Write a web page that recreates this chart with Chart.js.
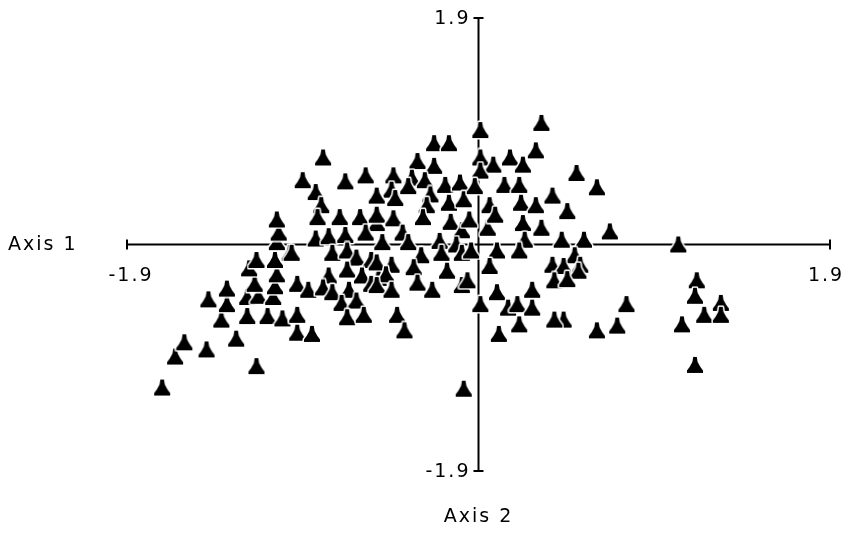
<!DOCTYPE html>
<html lang="en">
<head>
  <meta charset="UTF-8" />
  <title>Ordination plot</title>
  <script src="https://cdn.jsdelivr.net/npm/chart.js"></script>
  <style>
    body { margin: 0; background: #fff; }
    #wrap { width: 852px; height: 537px; }
  </style>
</head>
<body>
  <div id="wrap"><canvas id="chart" width="852" height="537"></canvas></div>
  <script>
    // axis titles and end-of-axis tick labels
    const axisTitles = ['Axis 1', 'Axis 2'];
    const xTicks = [-1.9, 1.9];
    const yTicks = [1.9, -1.9];

    // site scores
    const axis1 = [
      -1.71, -1.64, -1.59, -1.47, -1.31, -1.20, -1.39, -1.25, -1.14, -1.06,
      -1.46, -1.36, -1.25, -1.19, -1.11, -1.36, -1.21, -1.10, -1.09, -1.24,
      -1.20, -1.10, -1.02, -1.09, -1.08, -1.09, -0.84, -0.95, -0.88,
      -0.72, -0.61, -0.85, -0.87, -0.75, -0.64, -0.55, -0.88, -0.81, -0.72,
      -0.61, -1.01, -0.79, -0.71, -0.66, -0.58, -0.71, -0.63, -0.81, -0.54,
      -0.98, -0.92, -0.84, -0.79, -0.70, -0.58, -0.74, -0.66, -0.98, -0.71,
      -0.62, -0.98, -0.90, -0.24, -0.16, -0.33, -0.24, -0.46, -0.36, -0.29,
      -0.18, -0.10, -0.47, -0.38, -0.26, -0.55, -0.45, -0.28, -0.16, -0.08,
      -0.55, -0.46, -0.30, -0.15, -0.09, -0.41, -0.52, -0.38, -0.21, -0.12,
      -0.31, -0.20, -0.09, -0.55, -0.47, -0.35, -0.17, -0.50, -0.33, -0.55,
      -0.47, -0.25, -0.09, -0.44, -0.40, 0.01, 0.34, 0.31, 0.01, 0.08,
      0.17, 0.24, 0.01, 0.14, 0.22, -0.02, 0.06, 0.23, 0.31, 0.40,
      -0.05, 0.05, 0.09, 0.24, 0.34, 0.25, -0.04, 0.10, 0.22, 0.06,
      -0.06, 0.10, 0.29, 0.01, 0.16, 0.21, 0.29, 0.22, 0.11, 0.53,
      0.64, 0.48, 0.71, 0.45, 0.57, 0.52, 0.40, 0.46, 0.55, 0.54,
      0.41, 0.48, 0.80, 0.46, 0.41, 0.64, 0.75, 1.08, 1.18, 1.17,
      1.31, 1.22, 1.31, 1.10, 1.17, -0.08
    ];
    const axis2 = [
      -1.20, -0.94, -0.82, -0.88, -0.79, -1.02, -0.63, -0.60, -0.60, -0.62,
      -0.46, -0.50, -0.44, -0.43, -0.44, -0.37, -0.33, -0.35, -0.25, -0.20,
      -0.13, -0.13, -0.07, 0.02, 0.10, 0.21, 0.73, 0.54, 0.44,
      0.53, 0.58, 0.33, 0.23, 0.23, 0.23, 0.18, 0.05, 0.07, 0.08,
      0.10, -0.07, -0.07, -0.05, -0.11, -0.13, -0.21, -0.26, -0.26, -0.28,
      -0.33, -0.38, -0.36, -0.40, -0.38, -0.33, -0.49, -0.47, -0.59, -0.61,
      -0.59, -0.74, -0.75, 0.85, 0.85, 0.70, 0.66, 0.58, 0.56, 0.54,
      0.50, 0.52, 0.46, 0.49, 0.42, 0.41, 0.39, 0.33, 0.35, 0.38,
      0.25, 0.22, 0.23, 0.19, 0.12, 0.10, 0.02, 0.02, 0.03, 0.00,
      -0.09, -0.07, -0.07, -0.15, -0.17, -0.19, -0.22, -0.25, -0.32, -0.34,
      -0.38, -0.38, -0.34, -0.59, -0.72, 0.96, 1.02, 0.79, 0.73, 0.67,
      0.73, 0.67, 0.62, 0.50, 0.50, 0.49, 0.33, 0.35, 0.33, 0.41,
      0.21, 0.14, 0.25, 0.18, 0.14, 0.04, -0.05, -0.05, -0.05, -0.18,
      -0.30, -0.40, -0.38, -0.50, -0.53, -0.50, -0.53, -0.67, -0.75, 0.60,
      0.48, 0.28, 0.11, 0.04, 0.04, -0.09, -0.17, -0.18, -0.17, -0.22,
      -0.30, -0.29, -0.50, -0.63, -0.63, -0.72, -0.68, 0.00, -0.30, -0.43,
      -0.49, -0.59, -0.59, -0.67, -1.01, -1.21
    ];

    // flask-shaped black marker with a thin white halo
    function makeMarker() {
      const c = document.createElement('canvas');
      c.width = 20; c.height = 20;
      const g = c.getContext('2d');
      g.translate(2, 2);
      g.beginPath();
      g.moveTo(6.2, 0);
      g.lineTo(9.8, 0);
      g.lineTo(10.6, 5);
      g.quadraticCurveTo(13, 10, 16, 13.5);
      g.lineTo(16, 16);
      g.lineTo(0, 16);
      g.lineTo(0, 13.5);
      g.quadraticCurveTo(3, 10, 5.4, 5);
      g.closePath();
      g.lineJoin = 'round';
      g.strokeStyle = '#fff';
      g.lineWidth = 3;
      g.stroke();
      g.fillStyle = '#000';
      g.fill();
      return c;
    }

    const FONT = '19px "DejaVu Sans", sans-serif';

    const crossAxes = {
      id: 'crossAxes',
      beforeDatasetsDraw(chart) {
        const { ctx } = chart;
        const xs = chart.scales.x, ys = chart.scales.y;
        const x0 = xs.getPixelForValue(0), y0 = ys.getPixelForValue(0);
        const xl = xs.getPixelForValue(xTicks[0]), xr = xs.getPixelForValue(xTicks[1]);
        const yt = ys.getPixelForValue(yTicks[0]), yb = ys.getPixelForValue(yTicks[1]);
        ctx.save();
        ctx.strokeStyle = '#000';
        ctx.lineWidth = 2;
        ctx.beginPath();
        ctx.moveTo(xl, y0); ctx.lineTo(xr, y0);
        ctx.moveTo(xl, y0 - 5); ctx.lineTo(xl, y0 + 5);
        ctx.moveTo(xr, y0 - 5); ctx.lineTo(xr, y0 + 5);
        ctx.moveTo(x0, yt); ctx.lineTo(x0, yb);
        ctx.moveTo(x0 - 5, yt); ctx.lineTo(x0 + 5, yt);
        ctx.moveTo(x0 - 5, yb); ctx.lineTo(x0 + 5, yb);
        ctx.stroke();

        ctx.fillStyle = '#000';
        ctx.font = FONT;
        ctx.letterSpacing = '2px';
        ctx.textBaseline = 'middle';
        // x end labels under the ends
        ctx.textAlign = 'center';
        ctx.fillText(String(xTicks[0]), xl + 4, y0 + 32);
        ctx.fillText(String(xTicks[1]), xr - 4, y0 + 32);
        // y end labels left of the ends
        ctx.textAlign = 'right';
        ctx.fillText(String(yTicks[0]), x0 - 8, yt + 1);
        ctx.fillText(String(yTicks[1]), x0 - 8, yb + 1);
        // titles
        ctx.textAlign = 'left';
        ctx.fillText(axisTitles[0], 8, y0 + 1);
        ctx.textAlign = 'center';
        ctx.fillText(axisTitles[1], x0, yb + 46);
        ctx.restore();
      }
    };

    const points = axis1.map((v, i) => ({ x: v, y: axis2[i] }));

    new Chart(document.getElementById('chart'), {
      type: 'scatter',
      data: {
        datasets: [{
          data: points,
          pointStyle: makeMarker(),
          pointRadius: 10,
          pointHoverRadius: 10
        }]
      },
      options: {
        responsive: false,
        animation: false,
        devicePixelRatio: 1,
        layout: { padding: { left: 127, right: 22, top: 18, bottom: 66 } },
        plugins: { legend: { display: false }, tooltip: { enabled: false } },
        scales: {
          x: { type: 'linear', min: -1.9, max: 1.9, display: false },
          y: { type: 'linear', min: -1.9, max: 1.9, display: false }
        }
      },
      plugins: [crossAxes]
    });
  </script>
</body>
</html>
